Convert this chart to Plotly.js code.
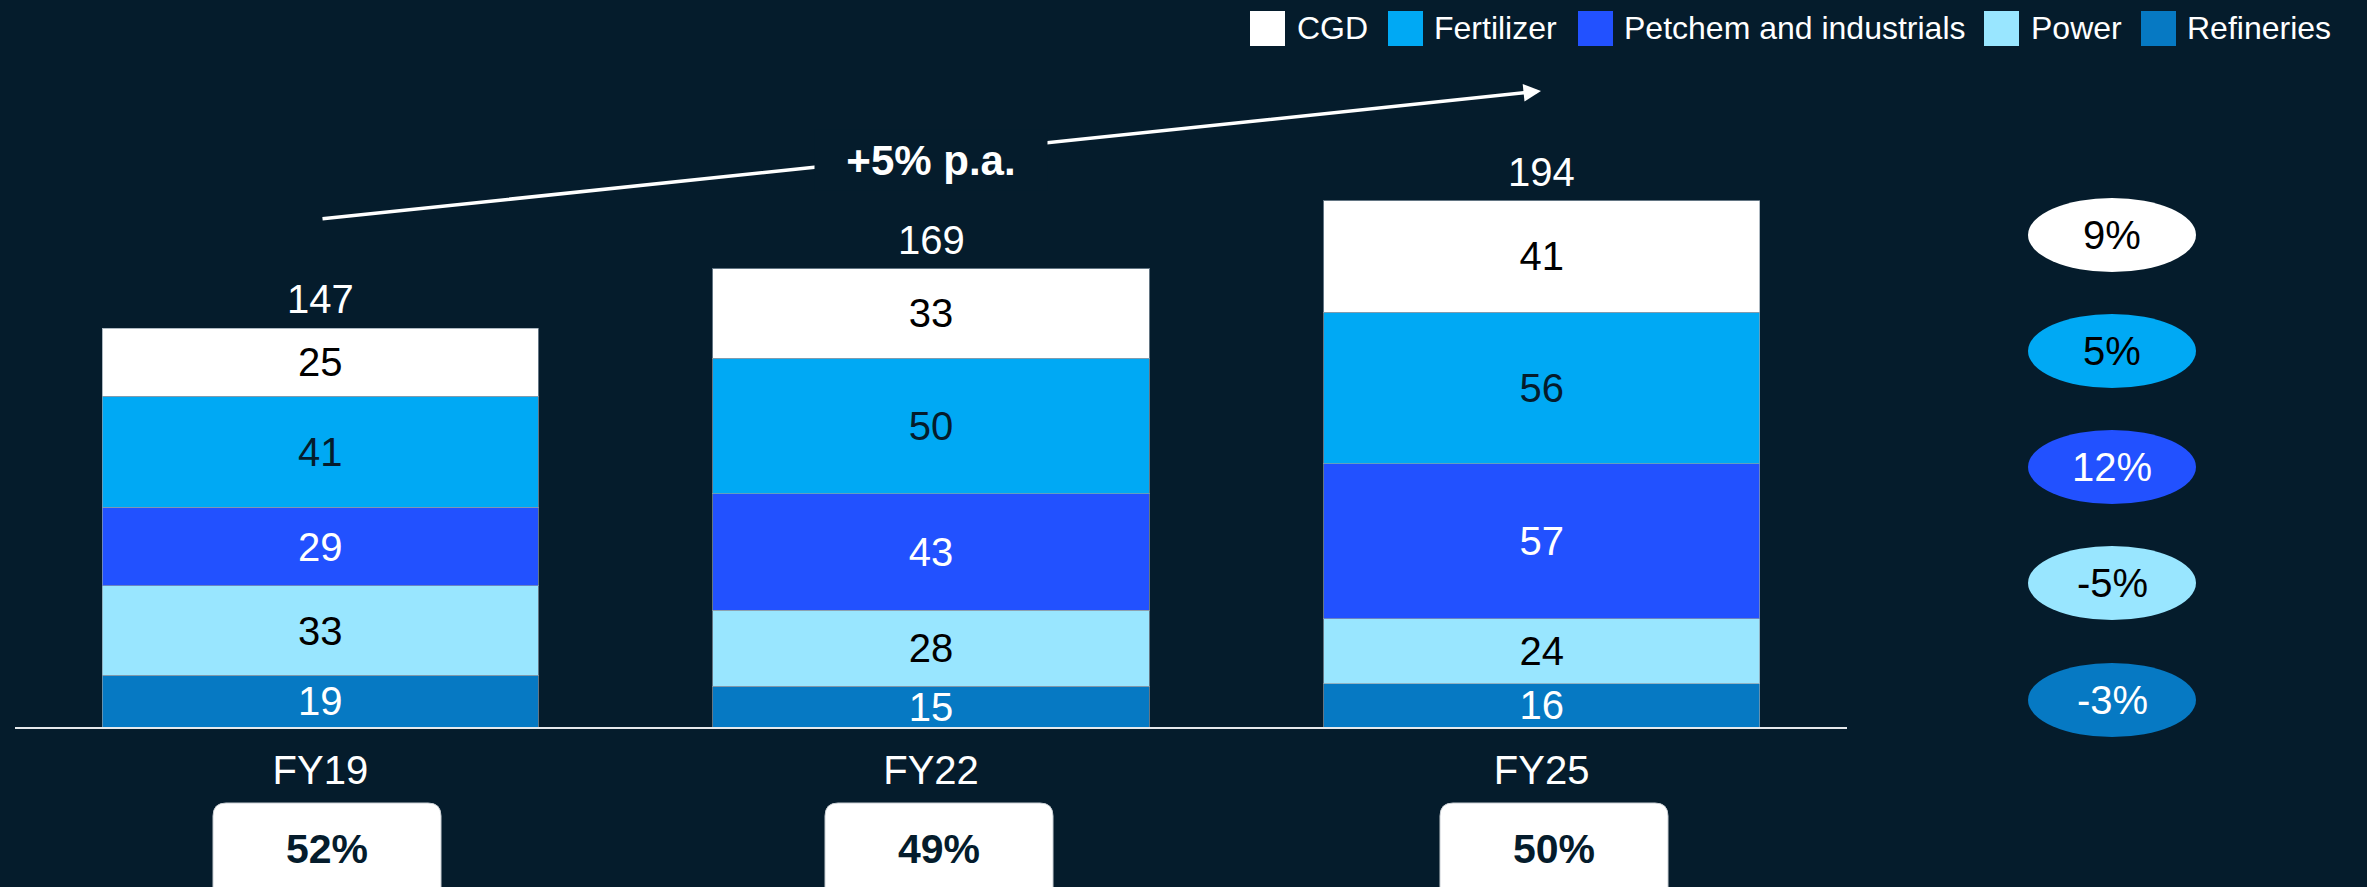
<!DOCTYPE html>
<html>
<head>
<meta charset="utf-8">
<script src="https://cdn.plot.ly/plotly-3.0.1.min.js"></script>
<style>
  html, body { margin: 0; padding: 0; background: #051C2C; }
  #chart { width: 2367px; height: 887px; }
</style>
</head>
<body>
<div id="chart"></div>
<script>
// ---------- DATA ----------
const categories = ['FY19', 'FY22', 'FY25'];
const seriesNames = ['CGD', 'Fertilizer', 'Petchem and industrials', 'Power', 'Refineries'];
const cgd = [25, 33, 41];
const fertilizer = [41, 50, 56];
const petchem = [29, 43, 57];
const power = [33, 28, 24];
const refineries = [19, 15, 16];
const cagrLabels = ['9%', '5%', '12%', '-5%', '-3%'];   // per series, same order as seriesNames
const shareLabels = ['52%', '49%', '50%'];              // per category
const growthLabel = '+5% p.a.';

// ---------- STYLE / LAYOUT ----------
const BG = '#051C2C';
const FONT = 'Arial, "Liberation Sans", sans-serif';
const seriesColors = ['#FFFFFF', '#00A9F4', '#2251FF', '#99E6FF', '#0679C3'];
const seriesTextColors = ['#000000', '#051C2C', '#FFFFFF', '#000000', '#FFFFFF'];
const ellipseTextColors = ['#000000', '#000000', '#FFFFFF', '#000000', '#FFFFFF'];
const seriesValues = [cgd, fertilizer, petchem, power, refineries];

const W = 2367, H = 887;
const M = { l: 15, r: 520, t: 0, b: 160 };
const plotW = W - M.l - M.r;
const plotH = H - M.t - M.b;
const pxPerUnit = 2.712;
const yMax = plotH / pxPerUnit;

// pixel -> paper helpers (layout positions only)
const px = x => (x - M.l) / plotW;
const py = y => (H - M.b - y) / plotH;

const totals = categories.map((c, i) => seriesValues.reduce((s, arr) => s + arr[i], 0));

// ---------- TRACES (stack bottom to top) ----------
const traces = [];
for (let k = seriesNames.length - 1; k >= 0; k--) {
  traces.push({
    type: 'bar',
    name: seriesNames[k],
    x: categories,
    y: seriesValues[k],
    text: seriesValues[k].map(String),
    textposition: 'inside',
    insidetextanchor: 'middle',
    constraintext: 'none',
    textangle: 0,
    textfont: { family: FONT, size: 40, color: seriesTextColors[k] },
    marker: { color: seriesColors[k], line: { color: 'rgba(140,155,168,0.7)', width: 1 } },
    hoverinfo: 'skip',
    showlegend: false
  });
}

// ---------- SHAPES & ANNOTATIONS ----------
const shapes = [];
const annotations = [];

// Totals above bars
categories.forEach((c, i) => {
  annotations.push({
    xref: 'x', yref: 'y', x: c, y: totals[i],
    text: String(totals[i]), showarrow: false,
    xanchor: 'center', yanchor: 'bottom', yshift: 5,
    font: { family: FONT, size: 40, color: '#FFFFFF' }
  });
});

// Manual legend (large square swatches)
const legendSwatchLeft = [1250, 1388, 1578, 1984, 2141];
const legendTextLeft = [1296, 1433, 1623, 2030, 2186];
const legendY = 28.5, sw = 35;
seriesNames.forEach((n, k) => {
  shapes.push({
    type: 'rect', xref: 'paper', yref: 'paper',
    x0: px(legendSwatchLeft[k]), x1: px(legendSwatchLeft[k] + sw),
    y0: py(legendY + sw / 2), y1: py(legendY - sw / 2),
    fillcolor: seriesColors[k], line: { width: 0 }
  });
  annotations.push({
    xref: 'paper', yref: 'paper', x: px(legendTextLeft[k]), y: py(legendY),
    xanchor: 'left', yanchor: 'middle', showarrow: false, text: n,
    borderpad: 0,
    font: { family: FONT, size: 32, color: '#FFFFFF' }
  });
});

// CAGR ellipses on the right
const ellipseCx = 2112, ellipseRx = 84, ellipseRy = 37;
const ellipseCy = [235, 351, 467, 583, 700];
seriesNames.forEach((n, k) => {
  shapes.push({
    type: 'circle', xref: 'paper', yref: 'paper',
    x0: px(ellipseCx - ellipseRx), x1: px(ellipseCx + ellipseRx),
    y0: py(ellipseCy[k] + ellipseRy), y1: py(ellipseCy[k] - ellipseRy),
    fillcolor: seriesColors[k], line: { width: 0 }
  });
  annotations.push({
    xref: 'paper', yref: 'paper', x: px(ellipseCx), y: py(ellipseCy[k]),
    xanchor: 'center', yanchor: 'middle',
    showarrow: false, text: cagrLabels[k],
    font: { family: FONT, size: 40, color: ellipseTextColors[k] }
  });
});

// Growth arrow
annotations.push({
  xref: 'paper', yref: 'paper', axref: 'paper', ayref: 'paper',
  x: px(1541), y: py(91), ax: px(321), ay: py(219),
  text: '', showarrow: true, arrowhead: 2, arrowsize: 1, arrowwidth: 3.5,
  arrowcolor: '#FFFFFF', standoff: 0, startstandoff: 0
});
annotations.push({
  xref: 'paper', yref: 'paper', x: px(931), y: py(160),
  xanchor: 'center', yanchor: 'middle',
  text: growthLabel, showarrow: false, bgcolor: BG,
  width: 232, height: 60, borderpad: 0,
  font: { family: FONT, size: 42, color: '#FFFFFF', weight: 700 }
});

// Share boxes below the axis
const boxCenters = [327, 939, 1554];
const boxHalfW = 114, boxTop = 803, boxBottom = 910, rad = 13;
categories.forEach((c, i) => {
  const l = boxCenters[i] - boxHalfW, r = boxCenters[i] + boxHalfW;
  const P = (x, y) => px(x) + ',' + py(y);
  const path = 'M' + P(l + rad, boxTop) +
    ' L' + P(r - rad, boxTop) +
    ' Q' + P(r, boxTop) + ' ' + P(r, boxTop + rad) +
    ' L' + P(r, boxBottom) +
    ' L' + P(l, boxBottom) +
    ' L' + P(l, boxTop + rad) +
    ' Q' + P(l, boxTop) + ' ' + P(l + rad, boxTop) + ' Z';
  shapes.push({
    type: 'path', xref: 'paper', yref: 'paper', path: path,
    fillcolor: '#FFFFFF', line: { color: '#C9CED3', width: 1 }
  });
  annotations.push({
    xref: 'paper', yref: 'paper', x: px(boxCenters[i]), y: py(848.5),
    xanchor: 'center', yanchor: 'middle',
    showarrow: false, text: shareLabels[i],
    font: { family: FONT, size: 41, color: BG, weight: 700 }
  });
});

const layout = {
  width: W, height: H,
  margin: M,
  paper_bgcolor: BG,
  plot_bgcolor: BG,
  barmode: 'stack',
  bargap: 0.286,
  showlegend: false,
  font: { family: FONT, color: '#FFFFFF' },
  xaxis: {
    type: 'category',
    categoryarray: categories,
    range: [-0.5, 2.5],
    showline: true, linecolor: '#E6E9EC', linewidth: 2,
    ticks: '', showgrid: false, zeroline: false,
    tickfont: { family: FONT, size: 40, color: '#FFFFFF' },
    ticklabelstandoff: 7,
    fixedrange: true
  },
  yaxis: {
    range: [0, yMax], visible: false, showgrid: false, zeroline: false, fixedrange: true
  },
  shapes: shapes,
  annotations: annotations
};

Plotly.newPlot('chart', traces, layout, { displayModeBar: false, staticPlot: true });
</script>
</body>
</html>
